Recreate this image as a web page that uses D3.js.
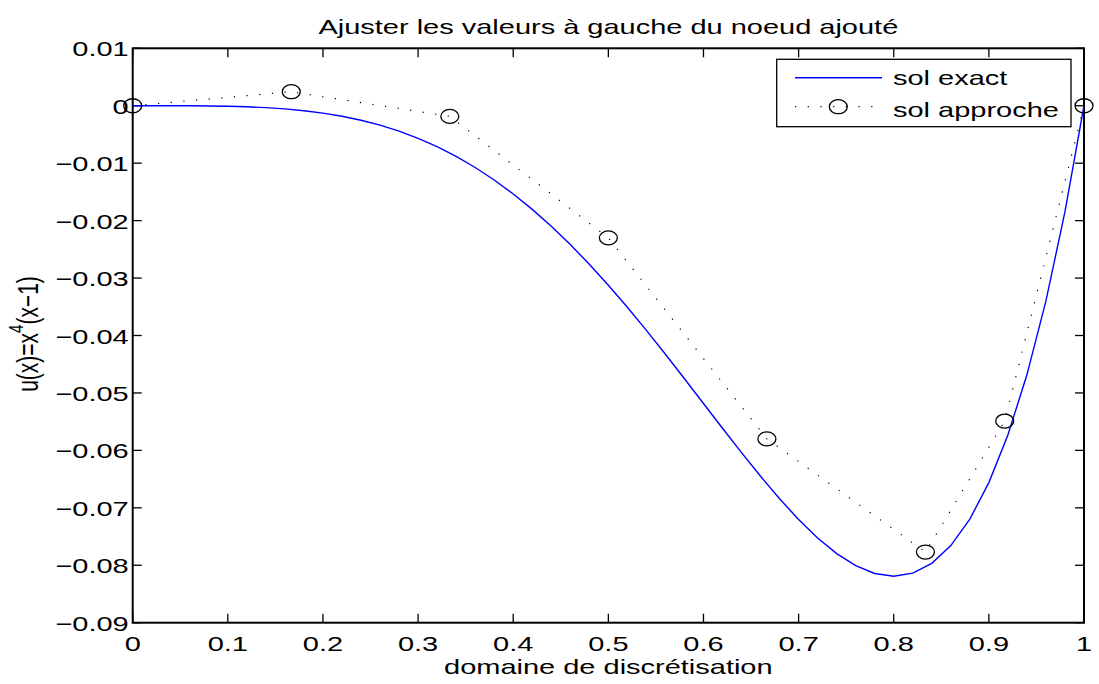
<!DOCTYPE html>
<html><head><meta charset="utf-8">
<script src="https://cdn.jsdelivr.net/npm/d3@7"></script>
<style>
body{margin:0;background:#fff;}
svg{display:block;font-family:"Liberation Sans",Arial,Helvetica,sans-serif;}
</style></head>
<body><svg id="c" width="1099" height="684"></svg>
<script>
// exact solution, x sampled every 0.02
const exactX = [0,0.02,0.04,0.06,0.08,0.10,0.12,0.14,0.16,0.18,0.20,0.22,0.24,0.26,0.28,0.30,0.32,0.34,0.36,0.38,0.40,0.42,0.44,0.46,0.48,0.50,0.52,0.54,0.56,0.58,0.60,0.62,0.64,0.66,0.68,0.70,0.72,0.74,0.76,0.78,0.80,0.82,0.84,0.86,0.88,0.90,0.92,0.94,0.96,0.98,1.00];
const exactY = [0,-0.0000002,-0.0000025,-0.0000122,-0.0000377,-0.00009,-0.0001825,-0.0003304,-0.0005505,-0.0008608,-0.00128,-0.0018272,-0.0025215,-0.0033816,-0.0044255,-0.00567,-0.0071303,-0.0088198,-0.0107495,-0.0129278,-0.01536,-0.0180478,-0.0209893,-0.0241783,-0.0276038,-0.03125,-0.0350958,-0.0391141,-0.0432718,-0.0475293,-0.05184,-0.0561501,-0.060398,-0.0645141,-0.0684204,-0.07203,-0.0752468,-0.0779651,-0.0800692,-0.0814331,-0.08192,-0.0813819,-0.0796594,-0.0765811,-0.0719634,-0.06561,-0.0573114,-0.0468449,-0.0339739,-0.0184474,0];
// approximate solution at the nodes
const approxX = [0,0.16667,0.33333,0.5,0.66667,0.83333,0.91667,1];
const approxY = [0,0.00244,-0.00185,-0.0230,-0.0580,-0.0777,-0.0549,0];
const xTicks = [0,0.1,0.2,0.3,0.4,0.5,0.6,0.7,0.8,0.9,1];
const yTicks = [0.01,0,-0.01,-0.02,-0.03,-0.04,-0.05,-0.06,-0.07,-0.08,-0.09];
const titleText = "Ajuster les valeurs à gauche du noeud ajouté";
const xLabel = "domaine de discrétisation";
const legendLabels = ["sol exact","sol approche"];

const svg = d3.select("#c");
const L=132.7, R=1084, T=48.3, B=622.7;
const SX = 1.38, FS = 21;
const x = d3.scaleLinear().domain([0,1]).range([L,R]);
const y = d3.scaleLinear().domain([-0.09,0.01]).range([B,T]);
const fmt = v => (v<0?"\u2212":"") + String(Math.abs(+v.toFixed(4)));

function label(parent, px, py, str, anchor){
  const g = parent.append("g").attr("transform",`translate(${px},${py}) scale(${SX},1)`);
  g.append("text").attr("text-anchor",anchor).attr("font-size",FS).text(str);
  return g;
}

// box
svg.append("rect").attr("x",L).attr("y",T).attr("width",R-L).attr("height",B-T)
  .attr("fill","none").attr("stroke","#000").attr("stroke-width",2);

// ticks
const tl = 9;
const gx = svg.append("g");
xTicks.forEach(t=>{
  gx.append("line").attr("x1",x(t)).attr("x2",x(t)).attr("y1",B).attr("y2",B-tl).attr("stroke","#000").attr("stroke-width",1.3);
  gx.append("line").attr("x1",x(t)).attr("x2",x(t)).attr("y1",T).attr("y2",T+tl).attr("stroke","#000").attr("stroke-width",1.3);
  label(gx, x(t), B+28, fmt(t), "middle");
});
const gy = svg.append("g");
yTicks.forEach(t=>{
  gy.append("line").attr("x1",L).attr("x2",L+tl).attr("y1",y(t)).attr("y2",y(t)).attr("stroke","#000").attr("stroke-width",1.3);
  gy.append("line").attr("x1",R).attr("x2",R-tl).attr("y1",y(t)).attr("y2",y(t)).attr("stroke","#000").attr("stroke-width",1.3);
  label(gy, L-4, y(t)+8, fmt(t), "end");
});

// exact line
const line = d3.line().x(d=>x(d[0])).y(d=>y(d[1]));
svg.append("path").datum(exactX.map((v,i)=>[v,exactY[i]]))
  .attr("d",line).attr("fill","none").attr("stroke","#0000ff").attr("stroke-width",1.4);
// approx dotted
svg.append("path").datum(approxX.map((v,i)=>[v,approxY[i]]))
  .attr("d",line).attr("fill","none").attr("stroke","#000").attr("stroke-width",1.2)
  .attr("stroke-dasharray","1.2,11.5");
svg.selectAll("ellipse.m").data(approxX.map((v,i)=>[v,approxY[i]])).join("ellipse")
  .attr("cx",d=>x(d[0])).attr("cy",d=>y(d[1])).attr("rx",9).attr("ry",7)
  .attr("fill","none").attr("stroke","#000").attr("stroke-width",1.3);

// title & labels
label(svg, (L+R)/2, 34, titleText, "middle");
label(svg, (L+R)/2, 674, xLabel, "middle");
const yl = svg.append("g").attr("transform",`translate(38,334) rotate(-90) scale(1,${SX})`)
  .append("text").attr("text-anchor","middle").attr("font-size",FS);
yl.append("tspan").text("u(x)=x");
yl.append("tspan").attr("dy",-11).attr("font-size",15).text("4");
yl.append("tspan").attr("dy",11).text("(x\u22121)");

// legend
const lg = svg.append("g");
lg.append("rect").attr("x",776.7).attr("y",59.3).attr("width",1071-776.7).attr("height",126.7-59.3)
  .attr("fill","#fff").attr("stroke","#000").attr("stroke-width",1.3);
lg.append("line").attr("x1",795).attr("x2",882).attr("y1",77.7).attr("y2",77.7).attr("stroke","#0000ff").attr("stroke-width",1.4);
label(lg, 893, 85, legendLabels[0], "start");
lg.append("line").attr("x1",795).attr("x2",882).attr("y1",106.7).attr("y2",106.7).attr("stroke","#000").attr("stroke-width",1.2).attr("stroke-dasharray","1.2,11.5");
lg.append("ellipse").attr("cx",838.3).attr("cy",106.7).attr("rx",9).attr("ry",7).attr("fill","none").attr("stroke","#000").attr("stroke-width",1.3);
label(lg, 893, 116.5, legendLabels[1], "start");
</script></body></html>
